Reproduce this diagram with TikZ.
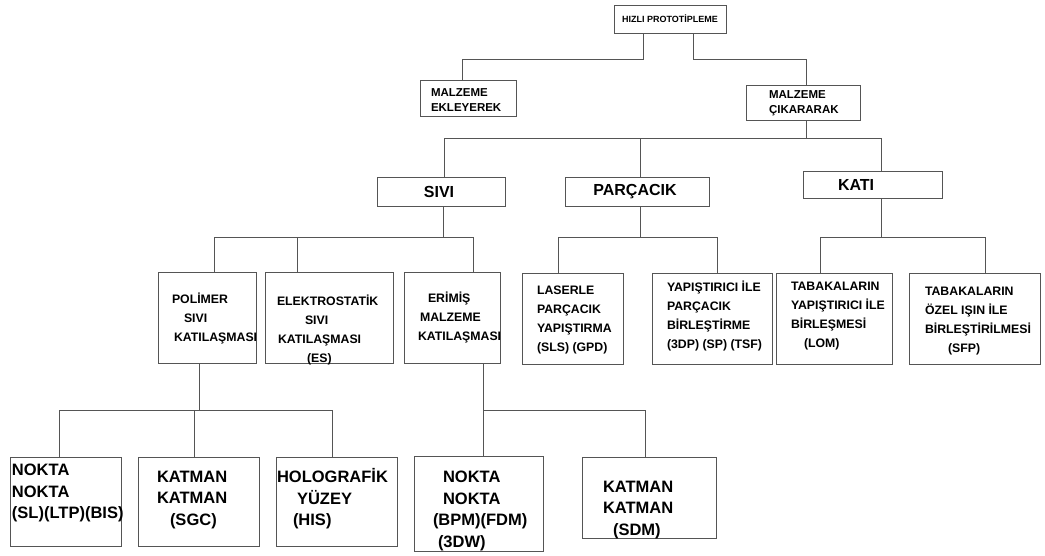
\documentclass[tikz,border=0pt]{standalone}
\usepackage{fontspec}
\setmainfont{Liberation Sans}
\definecolor{lncol}{RGB}{85,85,85}
\begin{document}
\begin{tikzpicture}[x=1pt,y=-1pt,
  every node/.style={inner sep=0pt, outer sep=0pt},
  box/.style={draw=lncol, line width=0.9pt, fill=white},
  ln/.style={draw=lncol, line width=0.9pt},
  tx/.style={anchor=west, align=left, text=black},
  t9/.style={tx, font=\bfseries\fontsize{9}{11}\selectfont},
  t11/.style={tx, font=\bfseries\fontsize{11.5}{14.5}\selectfont},
  t12/.style={tx, font=\bfseries\fontsize{12.3}{19}\selectfont},
  t15/.style={tx, font=\bfseries\fontsize{16}{19}\selectfont},
  t16/.style={tx, font=\bfseries\fontsize{16.5}{21.5}\selectfont}
]
\fill[white] (0,0) rectangle (1045,555);
\useasboundingbox (0,0) rectangle (1045,555);

% bus levels
\coordinate (b1) at (0,59);
\coordinate (b2) at (0,138);
\coordinate (b3) at (0,237);
\coordinate (b4) at (0,410);

% boxes
\node[box, minimum width=112pt, minimum height=28pt] (hizli) at (670,19) {};
\node[box, minimum width=96pt, minimum height=36pt] (ekle) at (468,98) {};
\node[box, minimum width=114pt, minimum height=35pt] (cika) at (803,102.5) {};
\node[box, minimum width=128pt, minimum height=29pt] (sivi) at (441,191.5) {};
\node[box, minimum width=144pt, minimum height=29pt] (parc) at (637,191.5) {};
\node[box, minimum width=139pt, minimum height=27pt] (kati) at (872.5,184.5) {};
\node[box, minimum width=98pt, minimum height=91pt] (poly) at (207,317.5) {};
\node[box, minimum width=128pt, minimum height=91pt] (elek) at (329,317.5) {};
\node[box, minimum width=96pt, minimum height=91pt] (erim) at (452,317.5) {};
\node[box, minimum width=101pt, minimum height=91pt] (lase) at (572.5,318.5) {};
\node[box, minimum width=120pt, minimum height=91pt] (yapi) at (712,318.5) {};
\node[box, minimum width=116pt, minimum height=91pt] (tabl) at (834,318.5) {};
\node[box, minimum width=131pt, minimum height=91pt] (tabs) at (974.5,318.5) {};
\node[box, minimum width=111pt, minimum height=89pt] (nok1) at (65.5,501.5) {};
\node[box, minimum width=121pt, minimum height=89pt] (kat1) at (198.5,501.5) {};
\node[box, minimum width=121pt, minimum height=89pt] (holo) at (336.5,501.5) {};
\node[box, minimum width=129pt, minimum height=95pt] (nok2) at (478.5,503.5) {};
\node[box, minimum width=134pt, minimum height=81pt] (kat2) at (649,497.5) {};

% texts
\node[t9, anchor=center] (hizli-t) at (670,19) {HIZLI PROTOTİPLEME};
\node[t11] (ekle-t) at (431,100) {MALZEME\\EKLEYEREK};
\node[t11] (cika-t) at (769,103) {MALZEME\\ÇIKARARAK};
\node[t15, anchor=center] (sivi-t) at (439,191.5) {SIVI};
\node[t15, anchor=center] (parc-t) at (635,191.5) {PARÇACIK};
\node[t15] (kati-t) at (838,184.5) {KATI};
\node[t12] (poly-t) at (172,318.5) {POLİMER\\\hspace*{12pt}SIVI\\\hspace*{2pt}KATILAŞMASI};
\node[t12] (elek-t) at (277,330.5) {ELEKTROSTATİK\\\hspace*{28pt}SIVI\\\hspace*{1pt}KATILAŞMASI\\\hspace*{30pt}(ES)};
\node[t12] (erim-t) at (418,317.5) {\hspace*{10pt}ERİMİŞ\\\hspace*{2pt}MALZEME\\KATILAŞMASI};
\node[t12] (lase-t) at (537,319.5) {LASERLE\\PARÇACIK\\YAPIŞTIRMA\\(SLS) (GPD)};
\node[t12] (yapi-t) at (667,316.5) {YAPIŞTIRICI İLE\\PARÇACIK\\BİRLEŞTİRME\\(3DP) (SP) (TSF)};
\node[t12] (tabl-t) at (791,316) {TABAKALARIN\\YAPIŞTIRICI İLE\\BİRLEŞMESİ\\\hspace*{13pt}(LOM)};
\node[t12] (tabs-t) at (925,321) {TABAKALARIN\\ÖZEL IŞIN İLE\\BİRLEŞTİRİLMESİ\\\hspace*{23pt}(SFP)};
\node[t16] (nok1-t) at (12,493) {NOKTA\\NOKTA\\(SL)(LTP)(BIS)};
\node[t16] (kat1-t) at (157,500) {KATMAN\\KATMAN\\\hspace*{13pt}(SGC)};
\node[t16] (holo-t) at (277,499) {HOLOGRAFİK\\\hspace*{20pt}YÜZEY\\\hspace*{16pt}(HIS)};
\node[t16] (nok2-t) at (433,511) {\hspace*{10pt}NOKTA\\\hspace*{10pt}NOKTA\\(BPM)(FDM)\\\hspace*{5pt}(3DW)};
\node[t16] (kat2-t) at (603,510) {KATMAN\\KATMAN\\\hspace*{10pt}(SDM)};

% connectors level 1
\draw[ln] ([xshift=-27pt]hizli.south) -- ([xshift=-27pt]hizli.south |- b1) -| ([xshift=-6pt]ekle.north);
\draw[ln] ([xshift=23pt]hizli.south) -- ([xshift=23pt]hizli.south |- b1) -| ([xshift=3pt]cika.north);

% level 2
\draw[ln] ([xshift=3pt]cika.south) -- ([xshift=3pt]cika.south |- b2);
\draw[ln] ([xshift=3pt]sivi.north) -- ([xshift=3pt]sivi.north |- b2) -- ([xshift=8.5pt]kati.north |- b2) -- ([xshift=8.5pt]kati.north);
\draw[ln] ([xshift=3pt]parc.north) -- ([xshift=3pt]parc.north |- b2);

% level 3
\draw[ln] ([xshift=2pt]sivi.south) -- ([xshift=2pt]sivi.south |- b3);
\draw[ln] ([xshift=7pt]poly.north) -- ([xshift=7pt]poly.north |- b3) -- ([xshift=21pt]erim.north |- b3) -- ([xshift=21pt]erim.north);
\draw[ln] ([xshift=-32pt]elek.north) -- ([xshift=-32pt]elek.north |- b3);

\draw[ln] ([xshift=3pt]parc.south) -- ([xshift=3pt]parc.south |- b3);
\draw[ln] ([xshift=-14.5pt]lase.north) -- ([xshift=-14.5pt]lase.north |- b3) -- ([xshift=5pt]yapi.north |- b3) -- ([xshift=5pt]yapi.north);

\draw[ln] ([xshift=8.5pt]kati.south) -- ([xshift=8.5pt]kati.south |- b3);
\draw[ln] ([xshift=-14pt]tabl.north) -- ([xshift=-14pt]tabl.north |- b3) -- ([xshift=11pt]tabs.north |- b3) -- ([xshift=11pt]tabs.north);

% level 4
\draw[ln] ([xshift=-8pt]poly.south) -- ([xshift=-8pt]poly.south |- b4);
\draw[ln] ([xshift=-6.5pt]nok1.north) -- ([xshift=-6.5pt]nok1.north |- b4) -- ([xshift=-4.5pt]holo.north |- b4) -- ([xshift=-4.5pt]holo.north);
\draw[ln] ([xshift=-4.5pt]kat1.north) -- ([xshift=-4.5pt]kat1.north |- b4);

\draw[ln] ([xshift=31pt]erim.south) -- ([xshift=4.5pt]nok2.north);
\draw[ln] ([xshift=31pt]erim.south |- b4) -- ([xshift=-4pt]kat2.north |- b4) -- ([xshift=-4pt]kat2.north);
\end{tikzpicture}
\end{document}
